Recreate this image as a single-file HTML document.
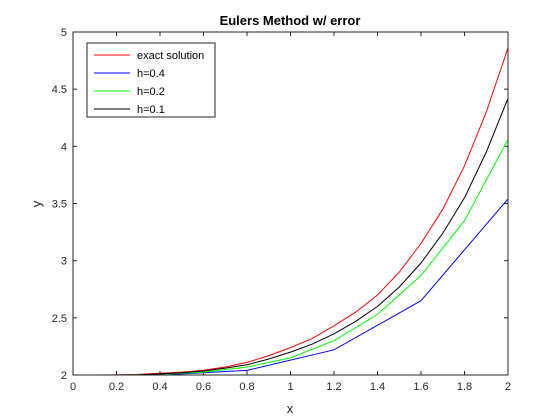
<!DOCTYPE html>
<html><head><meta charset="utf-8"><style>
html,body{margin:0;padding:0;background:#fff;}
svg{display:block;font-family:"Liberation Sans",Arial,sans-serif;}
</style></head><body>
<svg id="chart" width="560" height="420" viewBox="0 0 560 420">
<rect x="0" y="0" width="560" height="420" fill="#fff"/>
<rect x="73" y="32" width="435" height="343" fill="#fff" stroke="none"/>
<g id="ticks"></g>
<g id="series"></g>
<rect x="73" y="32" width="435" height="343" fill="none" stroke="#262626" stroke-width="1"/>
<text x="290" y="25" text-anchor="middle" font-size="13" font-weight="bold" fill="#000">Eulers Method w/ error</text>
<text x="290" y="413" text-anchor="middle" font-size="13" fill="#262626">x</text>
<text x="41" y="204" text-anchor="middle" font-size="13" fill="#262626" transform="rotate(-90 41 204)">y</text>
<g>
<rect x="87" y="43" width="128" height="74" fill="#fff" stroke="#262626" stroke-width="1"/>
<g id="legend-items"></g>
</g>
</svg>
<script>
const xTicks=[0,0.2,0.4,0.6,0.8,1,1.2,1.4,1.6,1.8,2];
const xTickLabels=["0","0.2","0.4","0.6","0.8","1","1.2","1.4","1.6","1.8","2"];
const yTicks=[2,2.5,3,3.5,4,4.5,5];
const yTickLabels=["2","2.5","3","3.5","4","4.5","5"];
const xExact=[0,0.1,0.2,0.3,0.4,0.5,0.6,0.7,0.8,0.9,1.0,1.1,1.2,1.3,1.4,1.5,1.6,1.7,1.8,1.9,2.0];
const yExact=[2,2,2.001,2.005,2.015,2.025,2.042,2.07,2.11,2.17,2.24,2.32,2.43,2.55,2.7,2.9,3.15,3.45,3.83,4.3,4.86];
const xH4=[0,0.4,0.8,1.2,1.6,2.0];
const yH4=[2,2.0,2.04,2.22,2.65,3.54];
const xH2=[0,0.2,0.4,0.6,0.8,1.0,1.2,1.4,1.6,1.8,2.0];
const yH2=[2,2,2.005,2.025,2.07,2.15,2.3,2.53,2.87,3.35,4.06];
const xH1=[0,0.1,0.2,0.3,0.4,0.5,0.6,0.7,0.8,0.9,1.0,1.1,1.2,1.3,1.4,1.5,1.6,1.7,1.8,1.9,2.0];
const yH1=[2,2,2,2.003,2.01,2.02,2.035,2.06,2.09,2.14,2.2,2.27,2.36,2.47,2.6,2.77,2.98,3.24,3.55,3.95,4.42];
const seriesNames=["exact solution","h=0.4","h=0.2","h=0.1"];

const NS="http://www.w3.org/2000/svg";
const L=73,R=508,T=32,B=375;
function sx(v){return L+(v-0)/(2-0)*(R-L);}
function sy(v){return B-(v-2)/(5-2)*(B-T);}
function mk(tag,attrs,parent){const e=document.createElementNS(NS,tag);for(const k in attrs)e.setAttribute(k,attrs[k]);parent.appendChild(e);return e;}

const tg=document.getElementById('ticks');
xTicks.forEach((v,i)=>{
  const x=sx(v);
  const t1=mk('line',{x1:x,y1:B,x2:x,y2:B-4,stroke:'#262626'},tg);
  
  
  const t2=mk('line',{x1:x,y1:T,x2:x,y2:T+4,stroke:'#262626'},tg);
  
  
  const tx=mk('text',{x:x,y:B+15,'text-anchor':'middle','font-size':'11',fill:'#262626'},tg);
  tx.textContent=xTickLabels[i];
  
  
});
yTicks.forEach((v,i)=>{
  const y=sy(v);
  const t1=mk('line',{x1:L,y1:y,x2:L+4,y2:y,stroke:'#262626'},tg);
  
  
  const t2=mk('line',{x1:R,y1:y,x2:R-4,y2:y,stroke:'#262626'},tg);
  
  
  const tx=mk('text',{x:L-6,y:y+4,'text-anchor':'end','font-size':'11',fill:'#262626'},tg);
  tx.textContent=yTickLabels[i];
  
  
});

const sg=document.getElementById('series');
const defs=[[xExact,yExact,'#ff0000','series-exact'],[xH4,yH4,'#0000ff','series-h04'],[xH2,yH2,'#00ff00','series-h02'],[xH1,yH1,'#000000','series-h01']];
defs.forEach(d=>{
  const pts=d[0].map((x,i)=>sx(x).toFixed(1)+','+sy(d[1][i]).toFixed(1)).join(' ');
  const p=mk('polyline',{points:pts,fill:'none',stroke:d[2],'stroke-width':'1'},sg);
  
  
});

const lg=document.getElementById('legend-items');
defs.forEach((d,i)=>{
  const y=55+i*18;
  const ln=mk('line',{x1:94,y1:y,x2:130,y2:y,stroke:d[2],'stroke-width':'1'},lg);
  
  
  const tx=mk('text',{x:137,y:y+4,'font-size':'11',fill:'#000'},lg);
  tx.textContent=seriesNames[i];
  
  
});
</script>
</body></html>
